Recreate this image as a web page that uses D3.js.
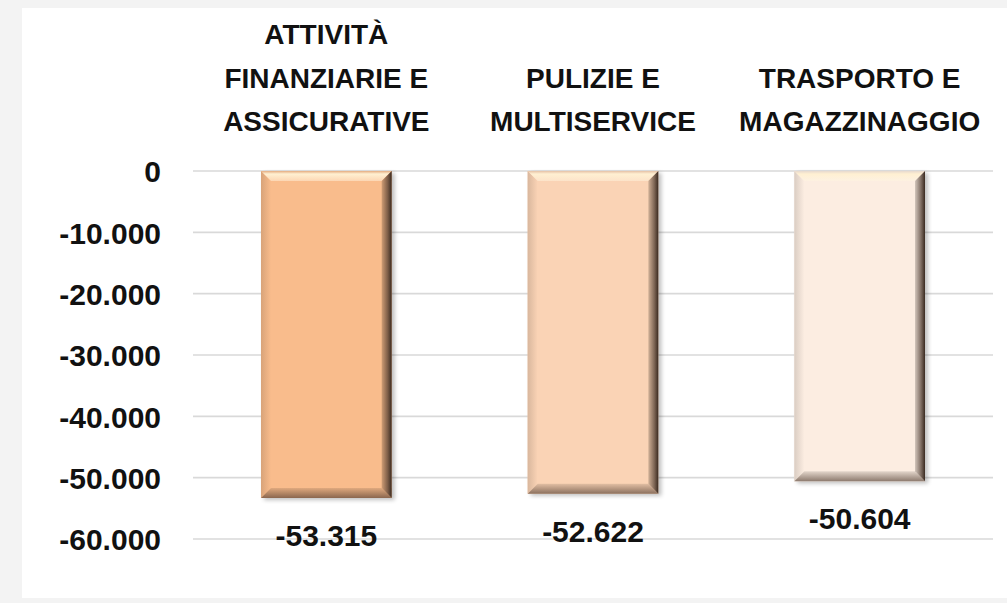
<!DOCTYPE html>
<html>
<head>
<meta charset="utf-8">
<script src="https://cdn.jsdelivr.net/npm/d3@7"></script>
<style>
  html, body { margin: 0; padding: 0; background: #f3f3f3; }
  svg { display: block; }
  text { font-family: "Liberation Sans", Arial, sans-serif; font-weight: bold; fill: #111; }
</style>
</head>
<body>
<svg id="chart" width="1007" height="603"></svg>
<script>
// ---- data ----
const categories = ["ATTIVITÀ FINANZIARIE E ASSICURATIVE", "PULIZIE E MULTISERVICE", "TRASPORTO E MAGAZZINAGGIO"];
const categoryLines = [["ATTIVITÀ", "FINANZIARIE E", "ASSICURATIVE"], ["PULIZIE E", "MULTISERVICE"], ["TRASPORTO E", "MAGAZZINAGGIO"]];
const values = [-53315, -52622, -50604];
const yTicks = [0, -10000, -20000, -30000, -40000, -50000, -60000];
const barColors = ["#F9BC8C", "#FAD3B5", "#FCEDE1"];

// ---- layout ----
const W = 1007, H = 603;
const plot = { left: 193, right: 993, top: 171, bottom: 539 };
const it = d3.formatLocale({ decimal: ",", thousands: ".", grouping: [3], currency: ["", "€"], minus: "-" });
const fmt = it.format(",d");

const svg = d3.select("#chart");
svg.append("rect").attr("x", 0).attr("y", 0).attr("width", W).attr("height", H).attr("fill", "#f3f3f3");
svg.append("rect").attr("x", 22).attr("y", 8).attr("width", W - 22).attr("height", 590).attr("fill", "#ffffff");

const x = d3.scaleBand().domain(categories).range([plot.left, plot.right]).paddingInner(0.51).paddingOuter(0.255);
const y = d3.scaleLinear().domain([-60000, 0]).range([plot.bottom, plot.top]);

const defs = svg.append("defs");
const shadow = defs.append("filter").attr("id", "shadow").attr("x", "-20%").attr("y", "-20%").attr("width", "140%").attr("height", "140%");
shadow.append("feGaussianBlur").attr("stdDeviation", 2.2);

// y axis labels
const yAxis = d3.axisLeft(y).tickValues(yTicks).tickFormat(fmt).tickSize(0).tickPadding(0);
const gAxis = svg.append("g").attr("transform", `translate(161,0)`).call(yAxis);
gAxis.select(".domain").remove();
gAxis.selectAll("text").attr("font-size", 30).attr("font-family", "Liberation Sans, Arial, sans-serif")
  .attr("font-weight", "bold").attr("fill", "#111").attr("dy", "0.36em");

// gridlines
svg.append("g").selectAll("line").data(yTicks).join("line")
  .attr("x1", plot.left).attr("x2", plot.right)
  .attr("y1", d => y(d)).attr("y2", d => y(d))
  .attr("stroke", "#d9d9d9").attr("stroke-width", 1.6);

// bars with bevel
const b = 10;
const bars = svg.append("g");
categories.forEach((c, i) => {
  const x0 = x(c), x1 = x(c) + x.bandwidth();
  const y0 = y(0), y1 = y(values[i]);
  const col = d3.color(barColors[i]);
  const g = bars.append("g");

  const gr = defs.append("linearGradient").attr("id", "rg" + i).attr("x1", 0).attr("x2", 1).attr("y1", 0).attr("y2", 0);
  gr.append("stop").attr("offset", 0).attr("stop-color", col.darker(0.5));
  gr.append("stop").attr("offset", 0.6).attr("stop-color", d3.interpolateRgb(col.darker(1.2), "#5a4234")(0.5));
  gr.append("stop").attr("offset", 1).attr("stop-color", "#3a2a20");
  const gt = defs.append("linearGradient").attr("id", "tg" + i).attr("x1", 0).attr("x2", 0).attr("y1", 0).attr("y2", 1);
  gt.append("stop").attr("offset", 0).attr("stop-color", col.darker(0.25));
  gt.append("stop").attr("offset", 0.3).attr("stop-color", "#FFF0D2");
  gt.append("stop").attr("offset", 1).attr("stop-color", d3.interpolateRgb(col, "#FFF6E2")(0.45));
  const gb = defs.append("linearGradient").attr("id", "bg" + i).attr("x1", 0).attr("x2", 0).attr("y1", 0).attr("y2", 1);
  gb.append("stop").attr("offset", 0).attr("stop-color", col.darker(0.3));
  gb.append("stop").attr("offset", 1).attr("stop-color", d3.interpolateRgb(col.darker(1.2), "#6e5040")(0.45));
  const gl = defs.append("linearGradient").attr("id", "lg" + i).attr("x1", 0).attr("x2", 1).attr("y1", 0).attr("y2", 0);
  gl.append("stop").attr("offset", 0).attr("stop-color", col.darker(0.4));
  gl.append("stop").attr("offset", 1).attr("stop-color", col);

  g.append("rect").attr("x", x0 + 3).attr("y", y0 + 2).attr("width", x1 - x0).attr("height", y1 - y0)
    .attr("fill", "#000").attr("opacity", 0.25).attr("filter", "url(#shadow)");
  g.append("rect").attr("x", x0).attr("y", y0).attr("width", x1 - x0).attr("height", y1 - y0).attr("fill", col);
  const poly = (pts, fill) => g.append("polygon").attr("points", pts.map(p => p.join(",")).join(" ")).attr("fill", fill);
  poly([[x0, y0], [x0 + b, y0 + b], [x0 + b, y1 - b], [x0, y1]], `url(#lg${i})`);
  poly([[x0, y1], [x1, y1], [x1 - b, y1 - b], [x0 + b, y1 - b]], `url(#bg${i})`);
  poly([[x0, y0], [x1, y0], [x1 - b, y0 + b], [x0 + b, y0 + b]], `url(#tg${i})`);
  poly([[x1, y0], [x1, y1], [x1 - b, y1 - b], [x1 - b, y0 + b]], `url(#rg${i})`);

  svg.append("text").attr("x", x0 + x.bandwidth() / 2).attr("y", y1 + 48)
    .attr("text-anchor", "middle").attr("font-size", 30).text(fmt(values[i]));
});

// category labels (above plot)
const lineH = 43.5, lastBase = 131;
categories.forEach((c, i) => {
  const lines = categoryLines[i];
  const t = svg.append("text").attr("text-anchor", "middle").attr("font-size", 28)
    .attr("x", x(c) + x.bandwidth() / 2);
  lines.forEach((ln, k) => {
    t.append("tspan").attr("x", x(c) + x.bandwidth() / 2)
      .attr("y", lastBase - (lines.length - 1 - k) * lineH).text(ln);
  });
});
</script>
</body>
</html>
